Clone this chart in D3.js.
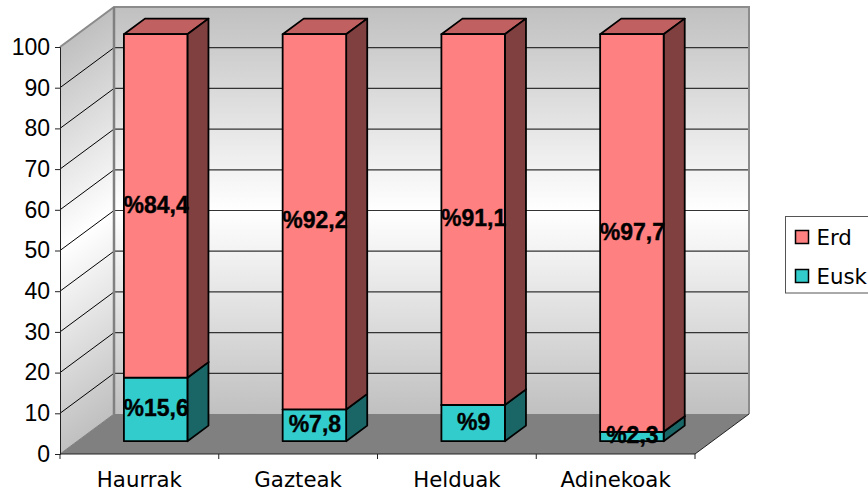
<!DOCTYPE html>
<html><head><meta charset="utf-8">
<script src="https://cdn.jsdelivr.net/npm/d3@7"></script>
<style>html,body{margin:0;padding:0;background:#fff}svg{display:block}</style>
</head><body><div id="c"></div>
<script>
const categories = ["Haurrak","Gazteak","Helduak","Adinekoak"];
const seriesNames = ["Eusk","Erd"];
const euskValues = [15.6,7.8,8.9,2.3];
const erdValues = [84.4,92.2,91.1,97.7];
const euskLabels = ["%15,6","%7,8","%9","%2,3"];
const erdLabels = ["%84,4","%92,2","%91,1","%97,7"];
const yTicks = [0,10,20,30,40,50,60,70,80,90,100];
const legendOrder = ["Erd","Eusk"];

const W=868,H=492;
const svg=d3.select("#c").append("svg").attr("width",W).attr("height",H);
const y=d3.scaleLinear().domain([0,100]).range([454,47]);
const x=d3.scaleBand().domain(categories).range([60,695]);
const dx=d3.scaleLinear().domain([0,1]).range([0,54]);
const dy=d3.scaleLinear().domain([0,1]).range([0,-40]);
const colors={Erd:{front:"#FF8080",side:"#804040",topFace:"#C06060"},Eusk:{front:"#33CCCC",side:"#1A6666",topFace:"#269999"}};
const P=(px,v,d)=>[px+dx(d),y(v)+dy(d)];
const poly=pts=>"M"+pts.map(p=>p.join(",")).join("L")+"Z";
const X0=x.range()[0],X1=x.range()[1];

const defs=svg.append("defs");
const g=defs.append("linearGradient").attr("id","wall").attr("x1",0).attr("x2",0).attr("y1",0).attr("y2",1);
[[0,"#c0c0c0"],[0.5,"#ffffff"],[1,"#c0c0c0"]].forEach(s=>g.append("stop").attr("offset",s[0]).attr("stop-color",s[1]));
const gl=defs.append("linearGradient").attr("id","wallL").attr("gradientUnits","userSpaceOnUse");
{
  const a=P(X0,100,0), nx=-dy(1), ny=dx(1), len=Math.hypot(nx,ny);
  const dist=(y(0)-y(100))*ny/len;
  gl.attr("x1",a[0]).attr("y1",a[1]).attr("x2",a[0]+dist*nx/len).attr("y2",a[1]+dist*ny/len);
  [[0,"#c0c0c0"],[0.5,"#ffffff"],[1,"#c0c0c0"]].forEach(s=>gl.append("stop").attr("offset",s[0]).attr("stop-color",s[1]));
}
// back wall
const bl=P(X0,0,1),tr=P(X1,100,1),tl=P(X0,100,1),br=P(X1,0,1);
svg.append("path").attr("d",poly([tl,tr,br,bl])).attr("fill","url(#wall)");
// left wall
svg.append("path").attr("d",poly([P(X0,0,0),P(X0,100,0),tl,bl])).attr("fill","url(#wallL)");
// floor
svg.append("path").attr("d",poly([P(X0,0,0),bl,br,P(X1,0,0)])).attr("fill","#808080");
// gridlines
yTicks.slice(1).forEach(t=>{
  svg.append("line").attr("x1",P(X0,t,1)[0]).attr("y1",P(X0,t,1)[1]).attr("x2",P(X1,t,1)[0]).attr("y2",P(X1,t,1)[1]).attr("stroke","#333").attr("stroke-width",1.2);
});
yTicks.forEach(t=>{
  svg.append("line").attr("x1",P(X0,t,0)[0]).attr("y1",P(X0,t,0)[1]).attr("x2",P(X0,t,1)[0]).attr("y2",P(X0,t,1)[1]).attr("stroke",t===0||t===100?"#808080":"#000").attr("stroke-width",1);
});
// wall border
svg.append("path").attr("d","M"+[P(X0,100,0),tl,tr,br].map(p=>p.join(",")).join("L")).attr("fill","none").attr("stroke","#8c8c8c").attr("stroke-width",2);
svg.append("line").attr("x1",tl[0]).attr("y1",tl[1]).attr("x2",bl[0]).attr("y2",bl[1]).attr("stroke","#808080").attr("stroke-width",2.5);
svg.append("line").attr("x1",P(X1,0,0)[0]).attr("y1",P(X1,0,0)[1]).attr("x2",br[0]).attr("y2",br[1]).attr("stroke","#222").attr("stroke-width",1);

// bars
const rows=categories.map((c,i)=>({cat:c,Eusk:euskValues[i],Erd:erdValues[i]}));
const stack=d3.stack().keys(seriesNames)(rows);
const barFrac=0.4, zF=0.32, zB=0.71, shift=-1;
const labelsBy={Eusk:euskLabels,Erd:erdLabels};
const barG=svg.append("g").attr("stroke","#000").attr("stroke-width",1.8).attr("stroke-linejoin","round");
stack.forEach(s=>{
  const col=colors[s.key];
  s.forEach((d,i)=>{
    const c=categories[i], w=x.bandwidth()*barFrac;
    const x0=x(c)+(x.bandwidth()-w)/2+shift, x1=x0+w;
    const v0=d[0], v1=Math.min(d[1],100);
    barG.append("path").attr("d",poly([P(x0,v1,zF),P(x0,v1,zB),P(x1,v1,zB),P(x1,v1,zF)])).attr("fill",col.topFace);
    barG.append("path").attr("d",poly([P(x1,v0,zF),P(x1,v1,zF),P(x1,v1,zB),P(x1,v0,zB)])).attr("fill",col.side);
    barG.append("path").attr("d",poly([P(x0,v0,zF),P(x0,v1,zF),P(x1,v1,zF),P(x1,v0,zF)])).attr("fill",col.front);
  });
});
// data labels
stack.forEach(s=>{
  s.forEach((d,i)=>{
    const c=categories[i], w=x.bandwidth()*barFrac;
    const x0=x(c)+(x.bandwidth()-w)/2+shift;
    const mid=P(x0+w/2,(d[0]+Math.min(d[1],100))/2,zF);
    svg.append("text").attr("x",mid[0]+0.5).attr("y",mid[1]-1).attr("dy","0.33em").attr("text-anchor","middle")
      .attr("font-family","'Liberation Sans',Arial,sans-serif").attr("font-weight","bold").attr("font-size",23).attr("fill","#000")
      .attr("stroke","#000").attr("stroke-width",0.4)
      .text(labelsBy[s.key][i]);
  });
});
// axes
const font="'Liberation Sans',Arial,sans-serif";
const ay=svg.append("g").attr("transform",`translate(${X0},0)`).call(d3.axisLeft(y).tickValues(yTicks).tickSize(5).tickPadding(5));
ay.selectAll("text").attr("font-family",font).attr("font-size",23).attr("fill","#000");
ay.selectAll("line,path").attr("stroke","#222");
const ax=svg.append("g").attr("transform",`translate(0,${y(0)})`).call(d3.axisBottom(x).tickSize(0).tickPadding(0));
ax.selectAll("text").attr("font-family","'DejaVu Sans',sans-serif").attr("font-size",21.3).attr("fill","#000").attr("y",32.5).attr("dy",0);
ax.selectAll("path").attr("stroke","#222").attr("d",`M${X0},0H${X1}`);
[...categories.map(c=>x(c)),X1].forEach(px=>ax.append("line").attr("x1",px).attr("x2",px).attr("y1",0).attr("y2",5).attr("stroke","#222"));
// legend
const lg=svg.append("g");
lg.append("rect").attr("x",785.5).attr("y",216.5).attr("width",90).attr("height",76.5).attr("fill","#fff").attr("stroke","#555").attr("stroke-width",1);
const ly=d3.scalePoint().domain(legendOrder).range([237,276]);
legendOrder.forEach(k=>{
  lg.append("rect").attr("x",795.5).attr("y",ly(k)-6.5).attr("width",13).attr("height",13).attr("fill",colors[k].front).attr("stroke","#000").attr("stroke-width",1.5);
  lg.append("text").attr("x",816.5).attr("y",ly(k)).attr("dy","0.37em").attr("font-family","'DejaVu Sans',sans-serif").attr("font-size",21.3).attr("fill","#000").text(k);
});
</script></body></html>
